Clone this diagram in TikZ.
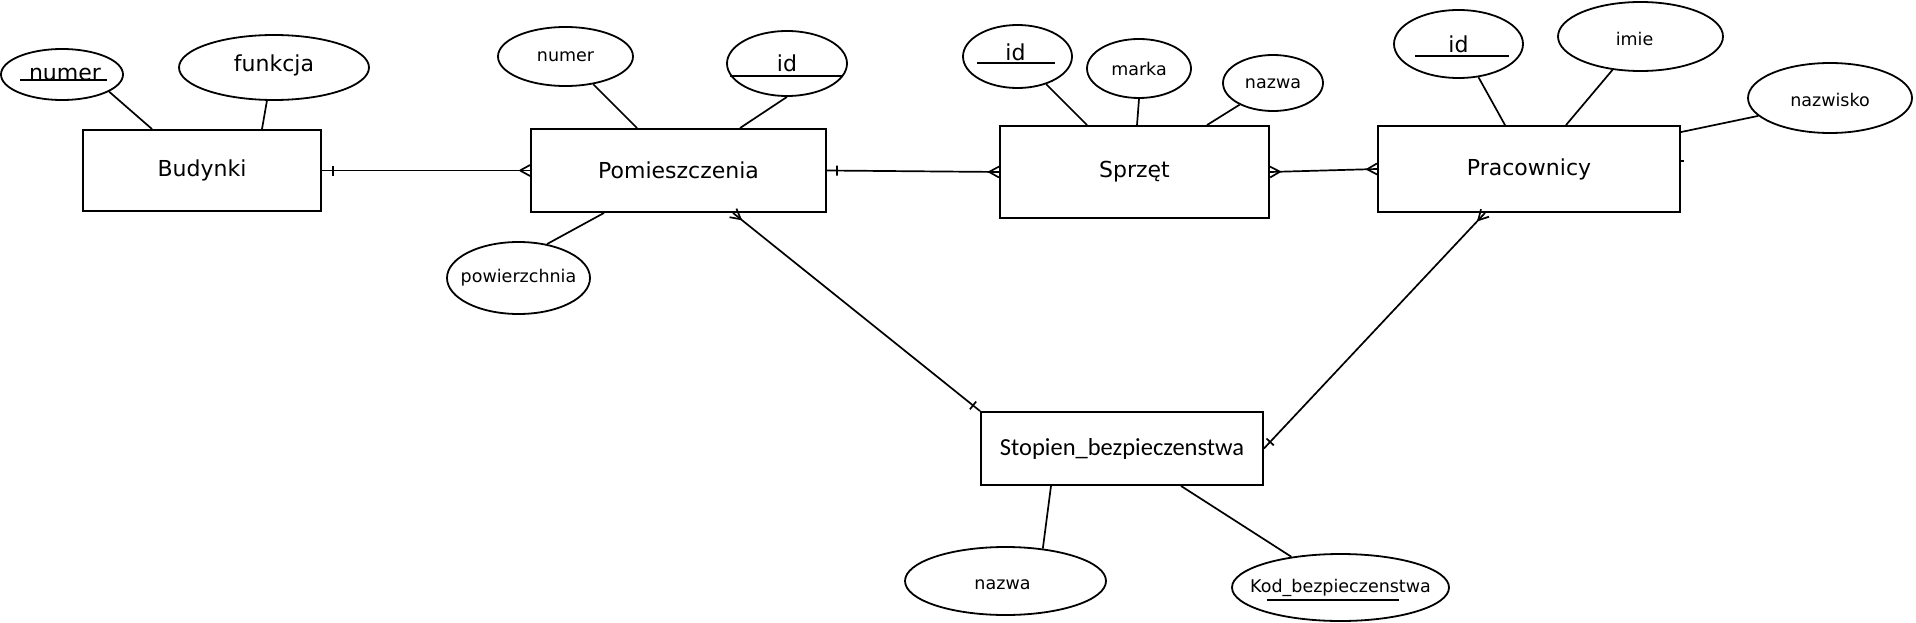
\documentclass[tikz,border=0pt]{standalone}
\usepackage{fontspec}
\setmainfont{DejaVu Sans}
\newfontfamily\carlfont{Carlito}
\usetikzlibrary{shapes.geometric,calc}
\newcommand\entfnt{\fontsize{22}{26}\selectfont}
\newcommand\attfnt{\fontsize{17.5}{21}\selectfont}
\newcommand\bigattfnt{\fontsize{22}{26}\selectfont}
\newcommand\crowfoot[2]{\draw[conn] ($(#1)!10pt!(#2)$) -- ($(#1)!5.5pt!90:(#2)$) ($(#1)!10pt!(#2)$) -- ($(#1)!5.5pt!-90:(#2)$);}
\newcommand\onetick[3]{\draw[conn] ($(#1)!#3!(#2)!5pt!90:(#2)$) -- ($(#1)!#3!(#2)!5pt!-90:(#2)$);}
\begin{document}
\begin{tikzpicture}[x=1pt,y=-1pt,
  ent/.style={draw,rectangle,line width=1.9pt,inner sep=0pt,font=\entfnt},
  attr/.style={draw,ellipse,line width=1.8pt,inner sep=0pt},
  conn/.style={line width=1.7pt},
  uline/.style={line width=1.7pt}]
\fill[white] (0,0) rectangle (1916,623);
\useasboundingbox (0,0) rectangle (1916,623);

% entities
\node[ent,minimum width=238pt,minimum height=81pt] (bud) at (202,170.5) {Budynki};
\node[ent,minimum width=295pt,minimum height=83pt] (pom) at (678.5,170.5) {Pomieszczenia};
\node[ent,minimum width=269pt,minimum height=92pt] (sprz) at (1134.5,172) {Sprzęt};
\node[ent,minimum width=302pt,minimum height=86pt] (prac) at (1529,169) {Pracownicy};
\node[ent,minimum width=282pt,minimum height=73pt,font={\carlfont\fontsize{24.5}{28}\selectfont}] (stop) at (1122,448.5) {Stopien\_bezpieczenstwa};

% attributes
\node[attr,minimum width=122pt,minimum height=51pt,label={[font=\bigattfnt,xshift=3pt]center:numer}] (numA) at (62,74.5) {};
\node[attr,minimum width=190pt,minimum height=65pt,label={[font=\bigattfnt,yshift=2pt]center:funkcja}] (funA) at (274,67.5) {};
\node[attr,minimum width=135pt,minimum height=59pt,label={[font=\attfnt]center:numer}] (numB) at (565.5,56.5) {};
\node[attr,minimum width=120pt,minimum height=65pt,label={[font=\bigattfnt]center:id}] (idB) at (787,63.5) {};
\node[attr,minimum width=143pt,minimum height=72pt,label={[font=\attfnt]center:powierzchnia}] (powB) at (518.5,278) {};
\node[attr,minimum width=109pt,minimum height=63pt,label={[font=\bigattfnt,yshift=4pt,xshift=-2pt]center:id}] (idC) at (1017.5,56.5) {};
\node[attr,minimum width=104pt,minimum height=59pt,label={[font=\attfnt]center:marka}] (markaC) at (1139,68.5) {};
\node[attr,minimum width=100pt,minimum height=56pt,label={[font=\attfnt,yshift=-1pt]center:nazwa}] (nazwaC) at (1273,83) {};
\node[attr,minimum width=129pt,minimum height=68pt,label={[font=\bigattfnt]center:id}] (idD) at (1458.5,44) {};
\node[attr,minimum width=165pt,minimum height=69pt,label={[font=\attfnt,xshift=-6pt,yshift=-2pt]center:imie}] (imieD) at (1640.5,36.5) {};
\node[attr,minimum width=164pt,minimum height=70pt,label={[font=\attfnt,yshift=-2pt]center:nazwisko}] (nazwiskoD) at (1830,98) {};
\node[attr,minimum width=201pt,minimum height=68pt,label={[font=\attfnt,xshift=-3pt,yshift=-4pt]center:nazwa}] (nazwaE) at (1005.5,581) {};
\node[attr,minimum width=217pt,minimum height=67pt,label={[font=\attfnt]center:Kod\_bezpieczenstwa}] (kodE) at (1340.5,587.5) {};

% key underlines
\draw[uline] ([shift={(-42,5.5)}]numA.center) -- ([shift={(45,5.5)}]numA.center);
\draw[uline] ([shift={(-57,12.5)}]idB.center) -- ([shift={(56,12.5)}]idB.center);
\draw[uline] ([shift={(-40.5,6.5)}]idC.center) -- ([shift={(37.5,6.5)}]idC.center);
\draw[uline] ([shift={(-43.5,12)}]idD.center) -- ([shift={(50.5,12)}]idD.center);
\draw[uline] ([shift={(-73.5,12.5)}]kodE.center) -- ([shift={(58.5,12.5)}]kodE.center);

% attribute links
\draw[conn] (numA.-20) -- ([xshift=-50pt]bud.north);
\draw[conn] (funA.-102) -- ([xshift=60pt]bud.north);
\draw[conn] (numB.-45) -- ([xshift=-41.5pt]pom.north);
\draw[conn] (idB.south) -- ([xshift=61.5pt]pom.north);
\draw[conn] (powB.50) -- ([xshift=-74.5pt]pom.south);
\draw[conn] (idC.-44) -- ([xshift=-47.5pt]sprz.north);
\draw[conn] (markaC.south) -- ([xshift=2.5pt]sprz.north);
\draw[conn] (nazwaC.213) -- ([xshift=72.5pt]sprz.north);
\draw[conn] (idD.-59) -- ([xshift=-24pt]prac.north);
\draw[conn] (imieD.-130) -- ([xshift=37pt]prac.north);
\draw[conn] (nazwiskoD.194) -- ([yshift=-7pt]prac.north east);
\draw[conn] (nazwaE.41) -- ([xshift=-71pt]stop.south);
\draw[conn] (kodE.148) -- ([xshift=59pt]stop.south);
\coordinate (stray) at ([yshift=8pt]prac.east);
\draw[conn] (stray) -- ++(3,0);

% relationships
\draw[conn] (bud.east) -- (pom.west);
\onetick{bud.east}{pom.west}{11pt}
\crowfoot{pom.west}{bud.east}

\draw[conn] (pom.east) -- (sprz.west);
\onetick{pom.east}{sprz.west}{10pt}
\crowfoot{sprz.west}{pom.east}

\draw[conn] (sprz.east) -- (prac.west);
\crowfoot{sprz.east}{prac.west}
\crowfoot{prac.west}{sprz.east}

\coordinate (pomS) at ([xshift=54.5pt]pom.south);
\draw[conn] (pomS) -- (stop.north west);
\crowfoot{pomS}{stop.north west}
\onetick{stop.north west}{pomS}{9pt}

\coordinate (pracS) at ([xshift=-44pt]prac.south);
\draw[conn] (pracS) -- (stop.east);
\crowfoot{pracS}{stop.east}
\onetick{stop.east}{pracS}{9pt}
\end{tikzpicture}
\end{document}
